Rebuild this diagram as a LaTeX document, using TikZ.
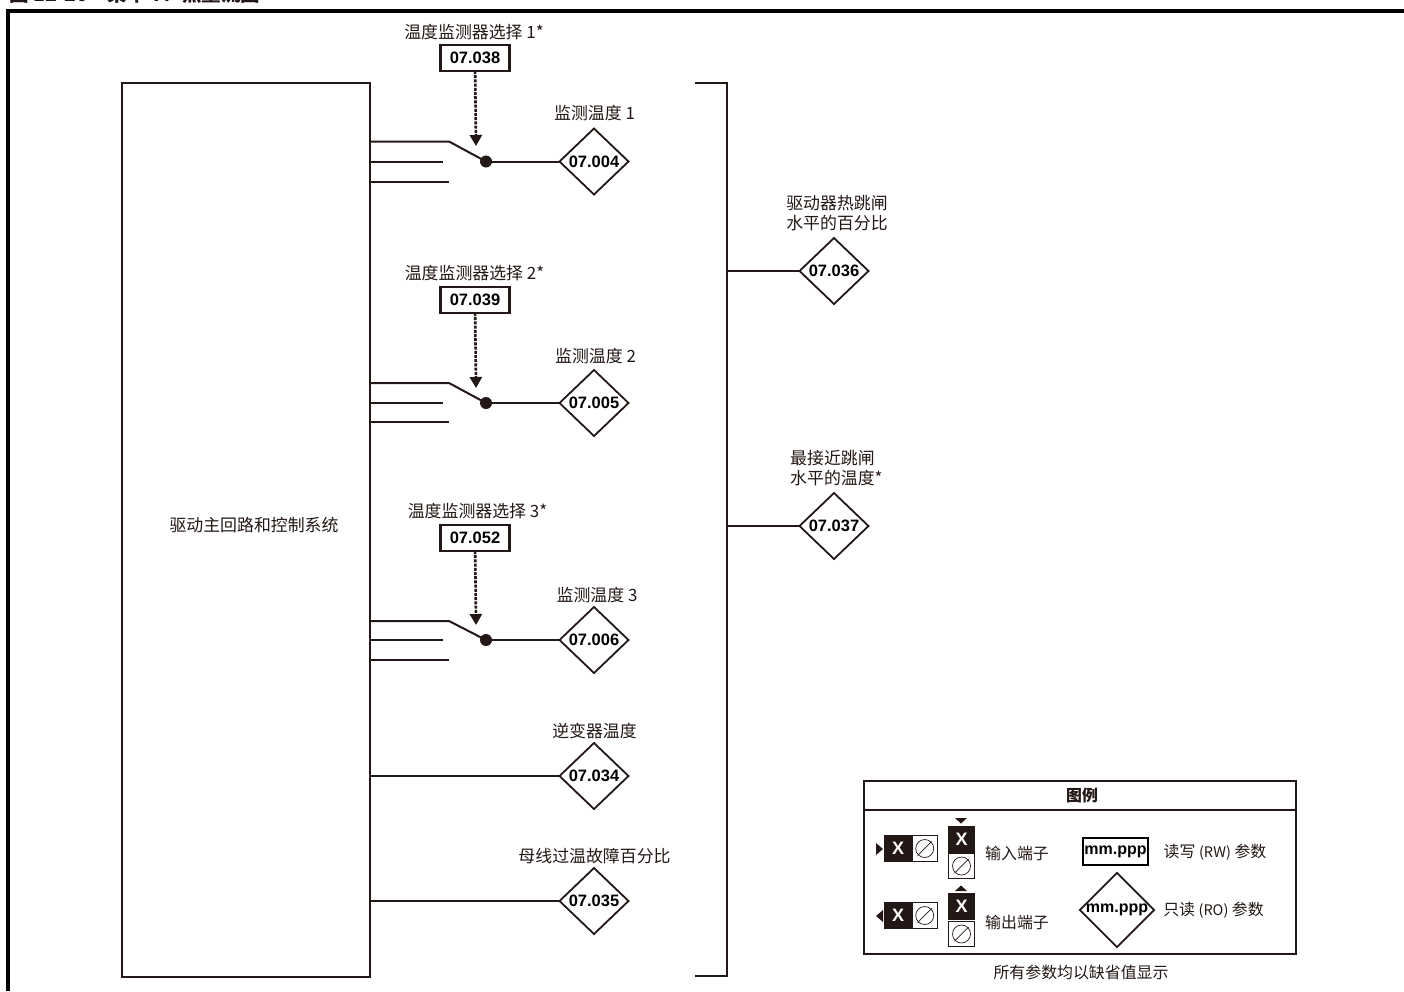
\documentclass[tikz,border=0pt]{standalone}
\usepackage{fontspec}
\setmainfont{Liberation Sans}
\newfontfamily\cjk{Noto Sans CJK SC}
\usetikzlibrary{arrows.meta,shapes.geometric}
\definecolor{ink}{HTML}{231815}
\tikzset{
  x=1pt,y=-1pt,
  line/.style={draw=ink,line width=2pt},
  lab/.style={font=\cjk\fontsize{16.9}{20}\selectfont,text=ink,inner sep=0pt,align=center},
  leglab/.style={font=\cjk\fontsize{15.9}{20}\selectfont,text=ink,inner sep=0pt,align=center},
  rwbox/.style={draw=ink,line width=2.2pt,fill=white,minimum width=69pt,minimum height=26pt,inner sep=0pt,outer sep=0pt,font=\bfseries\fontsize{16.5}{18}\selectfont},
  rodia/.style={diamond,draw=ink,line width=1.8pt,fill=white,minimum width=69pt,minimum height=66pt,inner sep=0pt,outer sep=0pt,font=\bfseries\fontsize{16.5}{18}\selectfont},
  dashar/.style={draw=ink,line width=2.6pt,dash pattern=on 3pt off 1.2pt,-{Triangle[width=12pt,length=11pt]}},
  dot/.style={circle,fill=ink,draw=none,minimum size=12pt,inner sep=0pt,outer sep=0pt},
  term/.style={draw=ink,line width=.8pt,fill=white,minimum size=25.5pt,inner sep=0pt,outer sep=0pt},
  xcell/.style={fill=ink,text=white,minimum width=27.5pt,minimum height=27pt,inner sep=0pt,outer sep=0pt,font=\bfseries\fontsize{18}{20}\selectfont},
}
\newcommand{\termslash}[2]{%
  \draw[ink,line width=.7pt] (#1,#2) circle (9pt);
  \draw[ink,line width=.7pt] (#1-7,#2+7) -- (#1+7,#2-7);}
\begin{document}
\begin{tikzpicture}
\useasboundingbox (0,0) rectangle (1404,991);
\fill[white] (0,0) rectangle (1404,991);
% frame
\node[anchor=west,inner sep=0pt,font=\cjk\bfseries\fontsize{19.5}{22}\selectfont,text=ink] (title) at (9,-6) {图 12-20\quad 菜单 7：热量流图};
\coordinate (fa) at (8,991); \coordinate (fb) at (8,10.5); \coordinate (fc) at (1404,10.5);
\draw[black,line width=4pt] (fa) -- (fb) -- (fc);
% main box
\node[draw=ink,line width=2pt,minimum width=247.5pt,minimum height=894pt,inner sep=0pt,outer sep=0pt,anchor=north west] (main) at (122,82.5) {};
\node[lab] (maint) at (254,525) {驱动主回路和控制系统};
% bracket
\coordinate (bt) at (695,82.5); \coordinate (bb) at (695,976);
\coordinate (btr) at (726.5,82.5); \coordinate (bbr) at (726.5,976);
\draw[line] (bt) -- (btr) -- (bbr) -- (bb);
% switch 1
\node[lab] (l1) at (474,32.5) {温度监测器选择 1*};
\node[rwbox] (s1) at (475,58) {07.038};
\node[lab] (m1) at (594.5,113) {监测温度 1};
\node[rodia] (d1) at (594,161.5) {07.004};
\node[dot] (j1) at (486,161.5) {};
\coordinate (a1) at (369,141.5); \coordinate (k1) at (449,141.5);
\coordinate (b1a) at (369,161.5); \coordinate (b1b) at (443,161.5);
\coordinate (c1a) at (369,181.5); \coordinate (c1b) at (449,181.5);
\coordinate (t1) at (476,146);
\draw[line] (a1) -- (k1) -- (j1.center);
\draw[line] (b1a) -- (b1b); \draw[line] (c1a) -- (c1b);
\draw[line] (j1) -- (d1);
\draw[dashar] (s1) -- (t1);
% switch 2
\node[lab] (l2) at (474.5,273) {温度监测器选择 2*};
\node[rwbox] (s2) at (475,300) {07.039};
\node[lab] (m2) at (595.5,356) {监测温度 2};
\node[rodia] (d2) at (594,403) {07.005};
\node[dot] (j2) at (486,403) {};
\coordinate (a2) at (369,383); \coordinate (k2) at (449,383);
\coordinate (b2a) at (369,403); \coordinate (b2b) at (443,403);
\coordinate (c2a) at (369,422); \coordinate (c2b) at (449,422);
\coordinate (t2) at (476,388);
\draw[line] (a2) -- (k2) -- (j2.center);
\draw[line] (b2a) -- (b2b); \draw[line] (c2a) -- (c2b);
\draw[line] (j2) -- (d2);
\draw[dashar] (s2) -- (t2);
% switch 3
\node[lab] (l3) at (477.5,511) {温度监测器选择 3*};
\node[rwbox] (s3) at (475,538) {07.052};
\node[lab] (m3) at (597,595) {监测温度 3};
\node[rodia] (d3) at (594,640) {07.006};
\node[dot] (j3) at (486,640) {};
\coordinate (a3) at (369,621); \coordinate (k3) at (449,621);
\coordinate (b3a) at (369,640); \coordinate (b3b) at (443,640);
\coordinate (c3a) at (369,660); \coordinate (c3b) at (449,660);
\coordinate (t3) at (476,625);
\draw[line] (a3) -- (k3) -- (j3.center);
\draw[line] (b3a) -- (b3b); \draw[line] (c3a) -- (c3b);
\draw[line] (j3) -- (d3);
\draw[dashar] (s3) -- (t3);
% other outputs
\node[lab] (m4) at (594.5,731) {逆变器温度};
\node[rodia] (d4) at (594,776) {07.034};
\coordinate (e4) at (369,776);
\draw[line] (e4) -- (d4);
\node[lab] (m5) at (594.5,856) {母线过温故障百分比};
\node[rodia] (d5) at (594,901) {07.035};
\coordinate (e5) at (369,901);
\draw[line] (e5) -- (d5);
% right
\node[lab] (m6) at (837,213) {驱动器热跳闸\\水平的百分比};
\node[rodia] (d6) at (834,271) {07.036};
\coordinate (e6) at (726.5,271);
\draw[line] (e6) -- (d6);
\node[lab,anchor=west,align=left] (m7) at (790,468) {最接近跳闸\\水平的温度*};
\node[rodia] (d7) at (834,526) {07.037};
\coordinate (e7) at (726.5,526);
\draw[line] (e7) -- (d7);
% legend
\node[draw=ink,line width=2pt,minimum width=432pt,minimum height=173pt,inner sep=0pt,outer sep=0pt,anchor=north west] (leg) at (864,781) {};
\coordinate (h1) at (864,809.5); \coordinate (h2) at (1296,809.5);
\draw[line] (h1) -- (h2);
\node[inner sep=0pt,font=\cjk\bfseries\fontsize{15.9}{18}\selectfont,text=ink] (legt) at (1082,795) {图例};
% legend terminals horizontal
\node[xcell] (x1) at (898,848.5) {X};
\node[term] (o1) at (924.7,848.5) {}; \termslash{924.7}{848.5}
\fill[ink] (876,843) -- (883,849) -- (876,855) -- cycle;
\node[xcell] (x2) at (898,915.5) {X};
\node[term] (o2) at (924.7,915.5) {}; \termslash{924.7}{915.5}
\fill[ink] (883,910) -- (876,916) -- (883,922) -- cycle;
% vertical
\node[xcell] (x3) at (961.5,839.5) {X};
\node[term] (o3) at (961.5,866) {}; \termslash{961.5}{866}
\fill[ink] (955,818) -- (967,818) -- (961,823.5) -- cycle;
\node[xcell] (x4) at (961.5,906.5) {X};
\node[term] (o4) at (961.5,934) {}; \termslash{961.5}{934}
\fill[ink] (955,891) -- (967,891) -- (961,885.5) -- cycle;
\node[leglab] (t1l) at (1017,853) {输入端子};
\node[leglab] (t2l) at (1017,922.5) {输出端子};
\node[draw=black,line width=2.6pt,minimum width=65pt,minimum height=27pt,inner sep=0pt,outer sep=0pt,font=\bfseries\fontsize{16}{18}\selectfont] (rw) at (1115.5,851.5) {mm.ppp};
\node[leglab] (rwl) at (1215,852.5) {读写 {\fontsize{14.5}{15}\selectfont(RW)} 参数};
\node[rodia,minimum width=71pt,minimum height=73pt,font=\bfseries\fontsize{16}{18}\selectfont] (ro) at (1117,910) {mm.ppp};
\node[leglab] (rol) at (1213.5,910) {只读 {\fontsize{14.5}{15}\selectfont(RO)} 参数};
\node[leglab] (note) at (1081,972) {所有参数均以缺省值显示};
\end{tikzpicture}
\end{document}
